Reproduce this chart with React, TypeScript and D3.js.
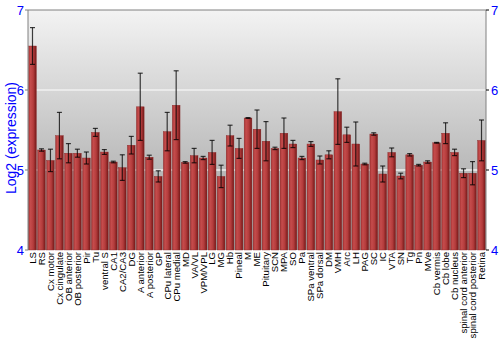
import React from "react";
import * as d3 from "d3";

const categories = ["LS","RS","Cx motor","Cx cingulate","OB anterior","OB posterior","Pir","Tu","ventral S","CA1","CA2/CA3","DG","A anterior","A posterior","GP","CPu lateral","CPu medial","MD","VA/VL","VPM/VPL","LG","MG","Hb","Pineal","M","ME","Pituitary","SCN","MPA","SO","Pa","SPa ventral","SPa dorsal","DM","VMH","Arc","LH","PAG","SC","IC","VTA","SN","Tg","Pn","MVe","Cb vermis","Cb lobe","Cb nucleus","spinal cord anterior","spinal cord posterior","Retina"];
const values = [6.55,5.25,5.12,5.43,5.21,5.21,5.15,5.47,5.225,5.10,5.03,5.31,5.79,5.16,4.92,5.48,5.81,5.095,5.18,5.15,5.22,4.92,5.43,5.27,5.65,5.51,5.36,5.27,5.46,5.325,5.15,5.325,5.125,5.19,5.73,5.44,5.325,5.075,5.45,4.95,5.22,4.925,5.19,5.06,5.10,5.34,5.46,5.22,4.96,4.96,5.37];
const errors = [0.23,0.015,0.14,0.29,0.12,0.05,0.075,0.05,0.03,0.01,0.16,0.11,0.42,0.025,0.07,0.24,0.43,0.01,0.09,0.02,0.15,0.14,0.13,0.125,0.005,0.24,0.245,0.015,0.19,0.045,0.02,0.03,0.05,0.05,0.41,0.095,0.275,0.01,0.015,0.1,0.055,0.035,0.015,0.01,0.015,0.005,0.13,0.04,0.055,0.145,0.255];
const yTicks = [4, 5, 6, 7];

const W = 500, H = 350;
const left = 28, right = 486, top = 10, bottom = 250;

export default function App() {
  const x = d3.scaleBand<string>().domain(categories).range([left, right]).paddingInner(0.14).paddingOuter(0.07);
  const y = d3.scaleLinear().domain([4, 7]).range([bottom, top]);
  const bw = x.bandwidth();
  const font = "Arial, 'Liberation Sans', sans-serif";
  return (
    <svg width={W} height={H} style={{ position: "absolute", left: 0, top: 0 }} fontFamily={font}>
      <defs>
        <linearGradient id="bg" x1="0" y1="0" x2="0" y2="1">
          <stop offset="0%" stopColor="#f3f3f3" />
          <stop offset="100%" stopColor="#9c9c9c" />
        </linearGradient>
        <linearGradient id="bar" x1="0" y1="0" x2="1" y2="0">
          <stop offset="0%" stopColor="#a83434" />
          <stop offset="25%" stopColor="#c54c4c" />
          <stop offset="60%" stopColor="#b43c3c" />
          <stop offset="100%" stopColor="#741818" />
        </linearGradient>
      </defs>
      <rect x={0} y={0} width={W} height={H} fill="#ffffff" />
      <rect x={left} y={top} width={right - left} height={bottom - top} fill="url(#bg)" />
      {[5, 6].map((t) => (
        <line key={t} x1={left} x2={right} y1={y(t)} y2={y(t)} stroke="#f0f0f0" strokeWidth={1.5} />
      ))}
      {categories.map((c, i) => {
        const x0 = x(c)!;
        const yv = y(values[i]);
        return (
          <g key={c}>
            <rect x={x0} y={yv} width={bw} height={bottom - yv} fill="url(#bar)" stroke="#8a2a2a" strokeWidth={0.4} />
          </g>
        );
      })}
      {categories.map((c, i) => {
        const cx = x(c)! + bw / 2;
        const hi = y(values[i] + errors[i]);
        const lo = y(values[i] - errors[i]);
        return (
          <g key={c + "e"} stroke="#000" strokeOpacity={0.75} strokeWidth={1.2}>
            <line x1={cx} x2={cx} y1={hi} y2={lo} />
            <line x1={cx - 2.5} x2={cx + 2.5} y1={hi} y2={hi} />
            <line x1={cx - 2.5} x2={cx + 2.5} y1={lo} y2={lo} />
          </g>
        );
      })}
      <line x1={left} x2={right} y1={top} y2={top} stroke="#808080" strokeWidth={1} />
      <line x1={left} x2={left} y1={top} y2={bottom} stroke="#808080" strokeWidth={1} />
      <line x1={right} x2={right} y1={top} y2={bottom} stroke="#808080" strokeWidth={1} />
      {yTicks.map((t) => (
        <g key={"t" + t}>
          <line x1={left - 3} x2={left} y1={y(t)} y2={y(t)} stroke="#808080" />
          <text x={left - 4} y={y(t)} dy="0.35em" textAnchor="end" fontSize={13} fill="#0000ff">{t}</text>
          <line x1={right} x2={right + 3} y1={y(t)} y2={y(t)} stroke="#000" />
          <text x={right + 5} y={y(t)} dy="0.35em" textAnchor="start" fontSize={13} fill="#0000ff">{t}</text>
        </g>
      ))}
      <text transform={`translate(16,138) rotate(-90)`} textAnchor="middle" fontSize={14} fill="#0000ff">Log2 (expression)</text>
      {categories.map((c) => (
        <text key={c + "l"} transform={`translate(${x(c)! + bw / 2 + 3.4},${bottom + 2}) rotate(-90)`} textAnchor="end" fontSize={9.6} fill="#000">{c}</text>
      ))}
    </svg>
  );
}
